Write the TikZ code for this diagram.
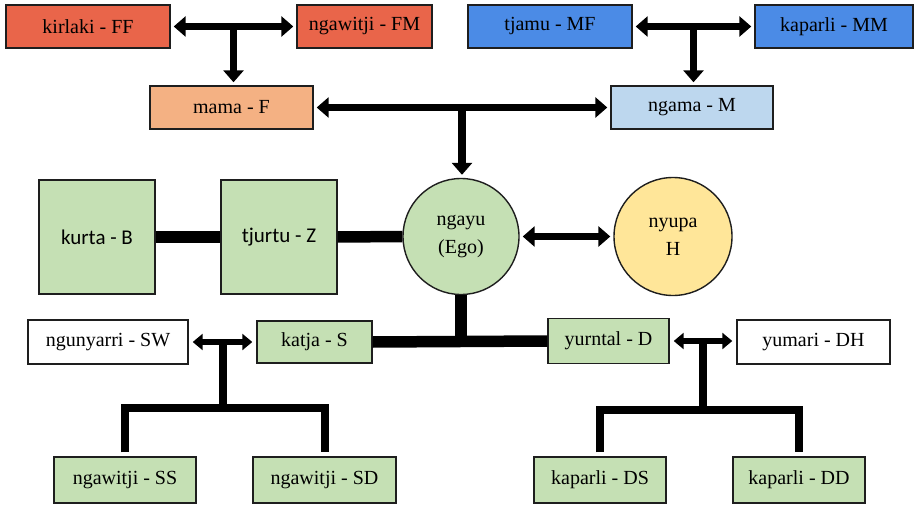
\documentclass[tikz,border=0pt]{standalone}
\usepackage{fontspec}
\setmainfont{Liberation Serif}
\newfontfamily\sansf{Carlito}
\usetikzlibrary{arrows.meta,calc}

\definecolor{grandF}{HTML}{E9654A}
\definecolor{grandM}{HTML}{4B8BE6}
\definecolor{father}{HTML}{F4B183}
\definecolor{mother}{HTML}{BDD7EE}
\definecolor{kin}{HTML}{C5E0B4}
\definecolor{spouse}{HTML}{FFE699}
\definecolor{edge}{HTML}{1E1E1E}

\tikzset{
  person/.style={draw=edge, line width=1.4pt, minimum height=43pt, inner sep=0pt,
                 font=\fontsize{20}{24}\selectfont, text=black},
  bigbox/.style={person, minimum width=116pt, minimum height=114pt,
                 font=\sansf\fontsize{21}{24}\selectfont},
  round/.style={draw=edge, line width=1.4pt, circle, minimum size=116pt, inner sep=0pt,
                align=center, font=\fontsize{20}{28}\selectfont},
  dbl/.style={line width=7.5pt,
              {Triangle[width=20pt,length=12pt]}-{Triangle[width=20pt,length=12pt]},
              shorten <=3pt, shorten >=3pt},
  dblsm/.style={line width=6pt,
              {Triangle[width=16pt,length=10pt]}-{Triangle[width=16pt,length=10pt]},
              shorten <=4pt, shorten >=4pt},
  down/.style={line width=7.5pt, -{Triangle[width=20pt,length=12pt]}, shorten >=3pt},
  tie/.style={line width=11.5pt},
  branch/.style={line width=8pt, line join=miter},
}

\begin{document}
\begin{tikzpicture}[x=1pt,y=-1pt]
\fill[white] (0,0) rectangle (915,505);
\useasboundingbox (0,0) rectangle (915,505);

% grandparents
\node[person, fill=grandF, minimum width=164pt] (ff) at (88,26.5) {kirlaki - FF};
\node[person, fill=grandF, minimum width=135pt] (fm) at (364.5,26.5) {ngawitji - FM};
\node[person, fill=grandM, minimum width=164pt] (mf) at (550,26.5) {tjamu - MF};
\node[person, fill=grandM, minimum width=158pt] (mm) at (834,26.5) {kaparli - MM};

% parents
\node[person, fill=father, minimum width=163pt] (fa) at (231.5,107.5) {mama - F};
\node[person, fill=mother, minimum width=162pt] (mo) at (692,107.5) {ngama - M};

% ego generation
\node[round, fill=kin] (ego) at (461,236.5) {ngayu\\(Ego)};
\node[round, fill=spouse, minimum size=118pt] (hu) at (673,236.5) {nyupa\\H};
\node[bigbox, fill=kin] (br) at (97,237) {kurta - B};
\node[bigbox, fill=kin] (si) at (279,237) {tjurtu - Z};

% children and their spouses
\node[person, fill=white, minimum width=160pt, minimum height=44pt] (sw) at (108,342) {ngunyarri - SW};
\node[person, fill=kin, minimum width=115pt, minimum height=42pt] (so) at (314.5,342) {katja - S};
\node[person, fill=kin, minimum width=121pt, minimum height=45pt] (da) at (608.5,341) {yurntal - D};
\node[person, fill=white, minimum width=153pt, minimum height=44pt] (dh) at (813.5,342) {yumari - DH};

% grandchildren
\node[person, fill=kin, minimum width=142pt, minimum height=46pt] (ss) at (125,480) {ngawitji - SS};
\node[person, fill=kin, minimum width=143pt, minimum height=46pt] (sd) at (324.5,480) {ngawitji - SD};
\node[person, fill=kin, minimum width=132pt, minimum height=46pt] (ds) at (600,480) {kaparli - DS};
\node[person, fill=kin, minimum width=132pt, minimum height=46pt] (dd) at (799,480) {kaparli - DD};

% marriage links and descent from the grandparents
\coordinate (fmid) at ($(ff.east)!0.5!(fm.west)$);
\coordinate (mmid) at ($(mf.east)!0.5!(mm.west)$);
\draw[dbl] (ff) -- (fm);
\draw[dbl] (mf) -- (mm);
\draw[down] (fmid) -- (fmid |- fa.north);
\draw[down] (mmid) -- (mmid |- mo.north);

% parents to ego
\coordinate (pmid) at ($(fa.east)!0.5!(mo.west)$);
\draw[dbl] (fa) -- (mo);
\draw[down] (pmid) -- (pmid |- ego.north);

% ego's spouse and siblings
\draw[dbl] (ego) -- (hu);
\draw[tie] (br) -- (si);
\draw[tie] (si) -- (ego);

% ego's children
\draw[tie] (so.east) -- (da.west);
\draw[tie] (ego.south) -- (ego.south |- so.east);

% son's family
\coordinate (smid) at ($(sw.east)!0.5!(so.west)$);
\coordinate (lbar) at (0,408);
\draw[dblsm] (sw) -- (so);
\draw[branch] (smid) -- (smid |- lbar);
\draw[branch] ([yshift=4pt]ss.north) -- (ss.north |- lbar) -- (sd.north |- lbar) -- ([yshift=4pt]sd.north);

% daughter's family
\coordinate (dmid) at ($(da.east)!0.5!(dh.west)$);
\coordinate (rbar) at (0,410);
\draw[dblsm] (da.east) -- (da.east -| dh.west);
\draw[branch] (dmid) -- (dmid |- rbar);
\draw[branch] ([yshift=4pt]ds.north) -- (ds.north |- rbar) -- (dd.north |- rbar) -- ([yshift=4pt]dd.north);
\end{tikzpicture}
\end{document}
